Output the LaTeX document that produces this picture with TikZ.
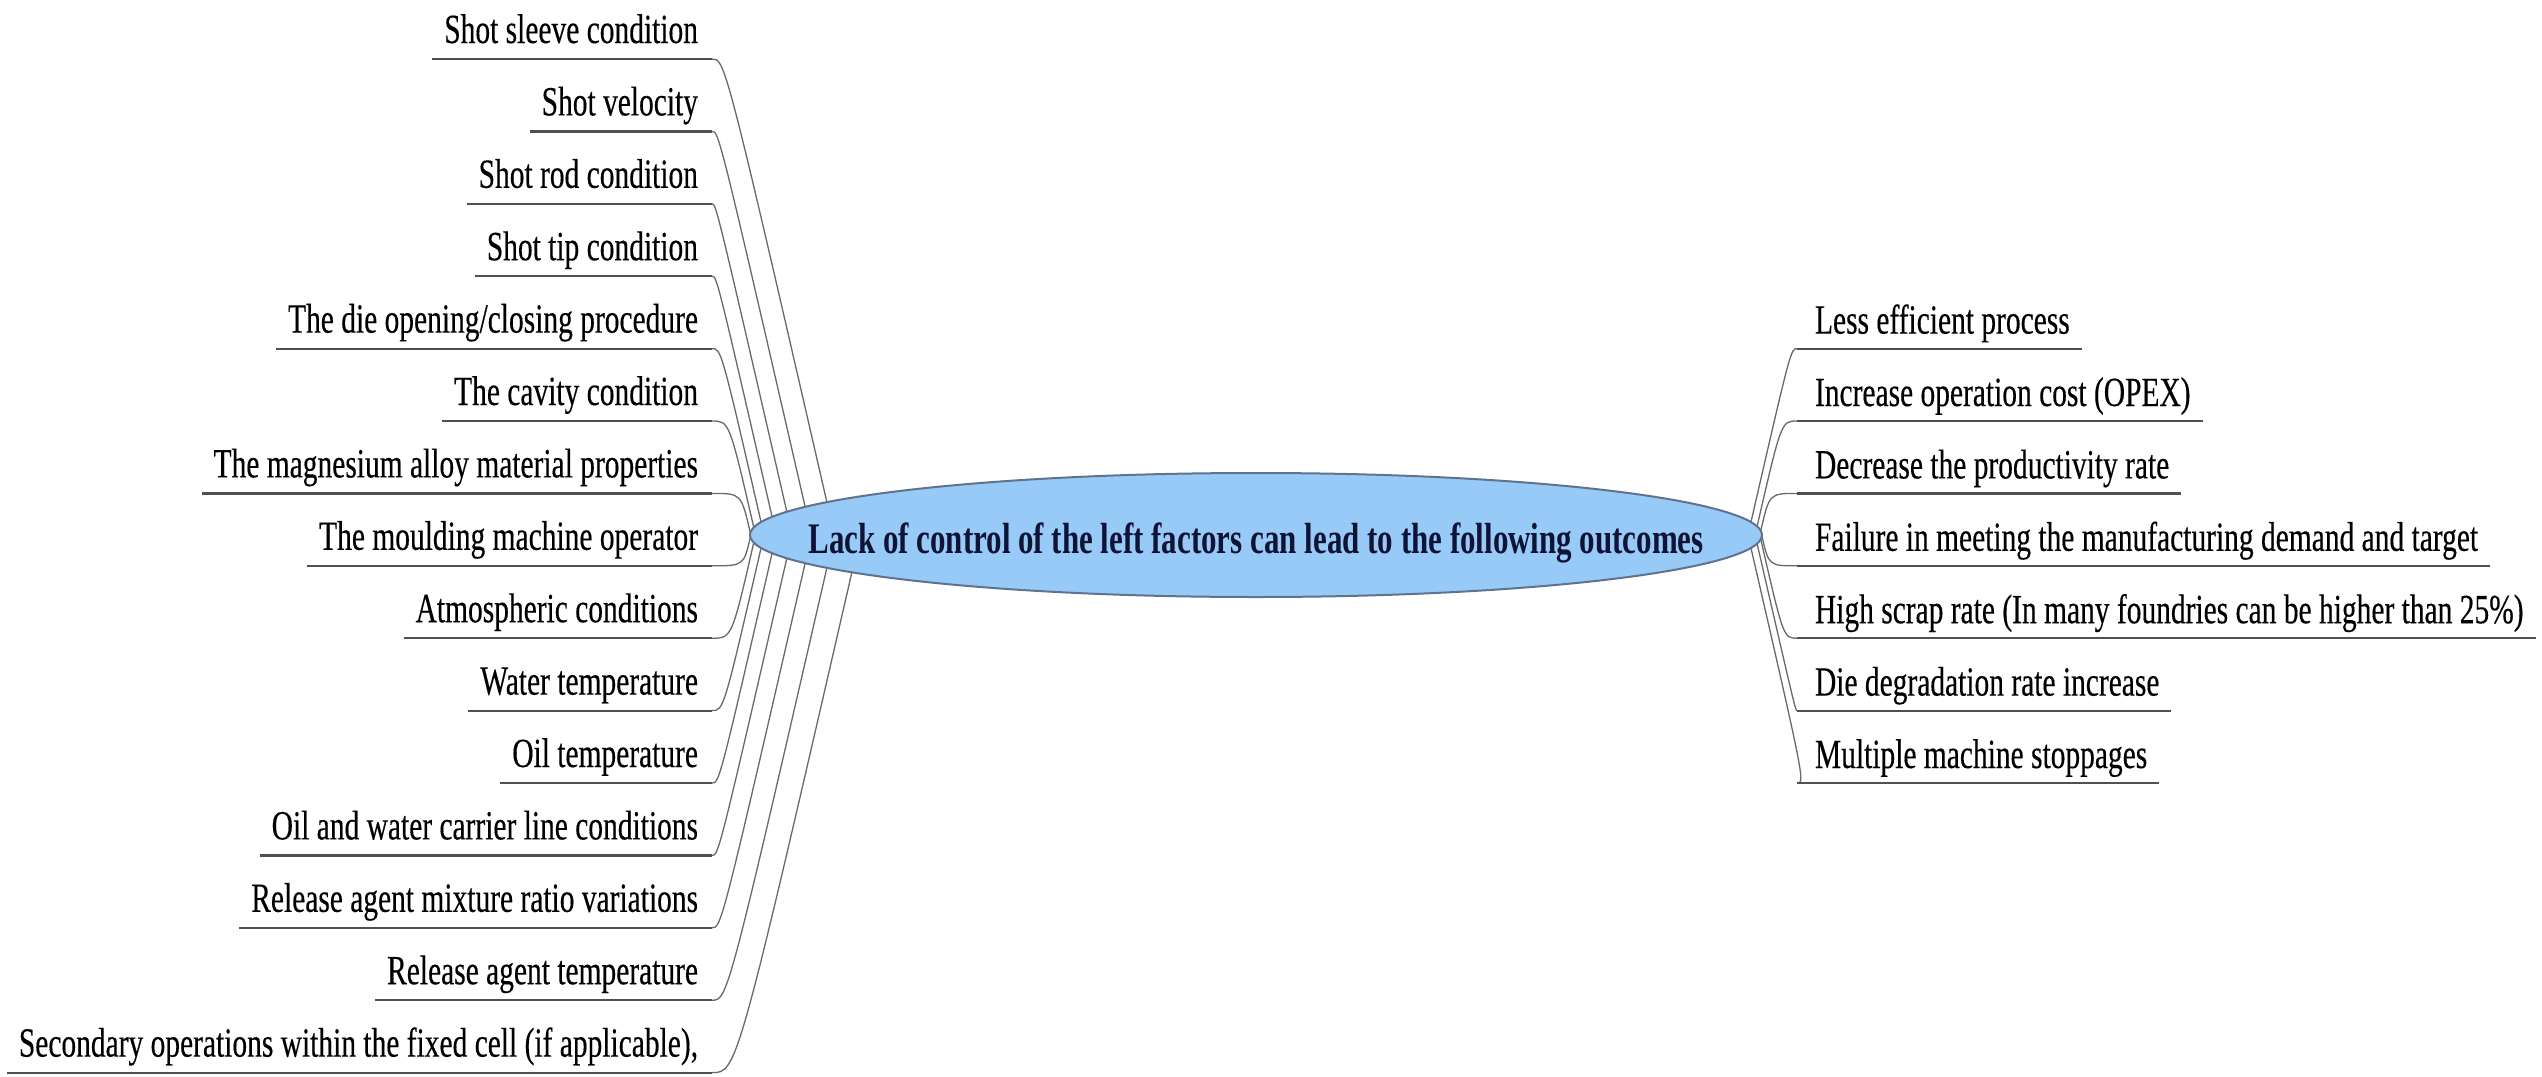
\documentclass[tikz,border=0pt]{standalone}
\usepackage{fontspec}
\setmainfont[FakeStretch=0.71]{Liberation Serif}
\newfontfamily\itemfont[FakeStretch=0.71,FakeBold=0.3]{Liberation Serif}
\usetikzlibrary{shapes.geometric,calc}
\pgfdeclarelayer{background}
\pgfsetlayers{background,main}
\definecolor{ellfill}{RGB}{152,202,248}
\definecolor{elldraw}{RGB}{95,115,140}
\definecolor{conn}{RGB}{105,105,105}
\definecolor{uline}{RGB}{80,80,80}
\definecolor{roottxt}{RGB}{15,20,55}
\begin{document}
\begin{tikzpicture}[x=0.5pt,y=-0.5pt,
  item/.style={inner sep=0pt, outer sep=0pt, font=\itemfont\fontsize{20.75pt}{24pt}\selectfont, text=black},
  litem/.style={item, anchor=base east},
  ritem/.style={item, anchor=base west},
  ul/.style={draw=uline, line width=1.1pt},
  cn/.style={draw=conn, line width=0.65pt},
  rootshape/.style={ellipse, draw=elldraw, fill=ellfill, line width=1pt, minimum width=506pt, minimum height=62pt, inner sep=0pt, outer sep=0pt},
  roottext/.style={font=\fontsize{21.8pt}{24pt}\selectfont\bfseries, text=roottxt, inner sep=0pt, outer sep=0pt, anchor=base}]
\useasboundingbox (0,0) rectangle (2542,1076);
\node[rootshape] (root) at (1256,535) {};
\node[roottext] (roottxt) at (1256,553) {Lack of control of the left factors can lead to the following outcomes};
% left factors
\foreach \i/\t in {0/{Shot sleeve condition},1/{Shot velocity},2/{Shot rod condition},3/{Shot tip condition},4/{The die opening/closing procedure},5/{The cavity condition},6/{The magnesium alloy material properties},7/{The moulding machine operator},8/{Atmospheric conditions},9/{Water temperature},10/{Oil temperature},11/{Oil and water carrier line conditions},12/{Release agent mixture ratio variations},13/{Release agent temperature},14/{Secondary operations within the fixed cell (if applicable),}} {
  \pgfmathsetmacro\yu{59+72.4*\i}
  \pgfmathsetmacro\ta{\i<7 ? 32-5*\i : (\i==7 ? -2 : 33-5*\i)}
  \pgfmathsetmacro\sy{535-62*sin(\ta)}
  \pgfmathsetmacro\cx{1256-506*cos(\ta)-0.23*abs(\sy-\yu)}
  \node[litem] (l\i) at (698,\yu-16) {\t};
  \coordinate (lu\i) at (712,\yu);
  \coordinate (le\i) at ($(root.center)+({-506*cos(\ta)},{-62*sin(\ta)})$);
  \draw[ul] ($(l\i.west|-lu\i)+(-12,0)$) -- (lu\i);
  \begin{pgfonlayer}{background}
    \draw[cn] (lu\i) .. controls (\cx,\yu) .. (le\i);
  \end{pgfonlayer}
}
% right outcomes
\foreach \j/\t in {0/{Less efficient process},1/{Increase operation cost (OPEX)},2/{Decrease the productivity rate},3/{Failure in meeting the manufacturing demand and target},4/{High scrap rate (In many foundries can be higher than 25\%)},5/{Die degradation rate increase},6/{Multiple machine stoppages}} {
  \pgfmathsetmacro\yu{59+72.4*(\j+4)}
  \pgfmathsetmacro\ta{\j==3 ? -1 : 12-4*\j}
  \pgfmathsetmacro\sy{535-62*sin(\ta)}
  \pgfmathsetmacro\cx{1256+506*cos(\ta)+0.23*abs(\sy-\yu)}
  \node[ritem] (r\j) at (1815,\yu-15) {\t};
  \coordinate (ru\j) at (1797,\yu);
  \coordinate (re\j) at ($(root.center)+({506*cos(\ta)},{-62*sin(\ta)})$);
  \draw[ul] (ru\j) -- ($(r\j.east|-ru\j)+(12,0)$);
  \begin{pgfonlayer}{background}
    \draw[cn] (re\j) .. controls (\cx,\yu) .. (ru\j);
  \end{pgfonlayer}
}
\end{tikzpicture}
\end{document}
